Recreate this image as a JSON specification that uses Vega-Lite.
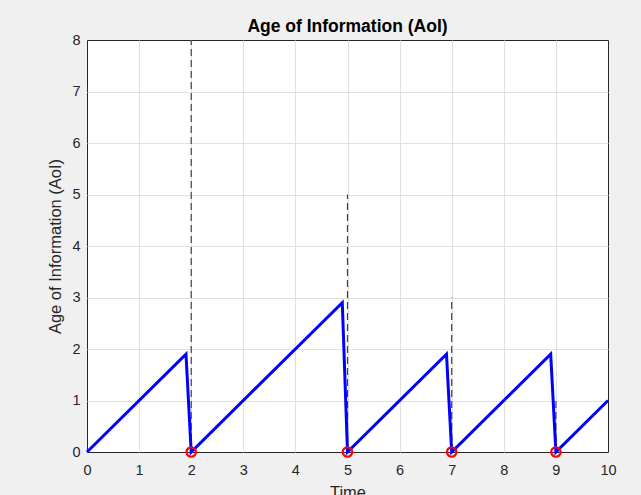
{
  "$schema": "https://vega.github.io/schema/vega-lite/v6.json",
  "width": 521,
  "height": 412,
  "autosize": {"type": "none"},
  "padding": {"left": 87, "top": 40, "right": 33, "bottom": 43},
  "background": "#f0f0f0",
  "title": {
    "text": "Age of Information (AoI)",
    "font": "Liberation Sans",
    "fontSize": 17.5,
    "fontWeight": "bold",
    "color": "#000000",
    "anchor": "middle",
    "baseline": "middle",
    "offset": -12
  },
  "config": {
    "view": {"fill": "#ffffff", "stroke": "#262626", "strokeWidth": 1},
    "axis": {
      "labelFont": "Liberation Sans",
      "titleFont": "Liberation Sans",
      "labelFontSize": 14.5,
      "titleFontSize": 16.5,
      "titleFontWeight": "normal",
      "labelColor": "#262626",
      "titleColor": "#262626",
      "labelFlush": false,
      "gridWidth": 1,
      "domain": false,
      "ticks": false
    }
  },
  "datasets": {
    "aoi": [
      {"i": 0, "t": 0, "age": 0},
      {"i": 1, "t": 1.9, "age": 1.9},
      {"i": 2, "t": 2, "age": 0},
      {"i": 3, "t": 4.9, "age": 2.9},
      {"i": 4, "t": 5, "age": 0},
      {"i": 5, "t": 6.9, "age": 1.9},
      {"i": 6, "t": 7, "age": 0},
      {"i": 7, "t": 8.9, "age": 1.9},
      {"i": 8, "t": 9, "age": 0},
      {"i": 9, "t": 10, "age": 1}
    ],
    "updates": [
      {"t": 2, "peak": 8, "base": 0},
      {"t": 5, "peak": 5, "base": 0},
      {"t": 7, "peak": 3, "base": 0},
      {"t": 9, "peak": 1, "base": 0}
    ]
  },
  "layer": [
    {
      "data": {"name": "updates"},
      "mark": {"type": "rule", "color": "#404040", "strokeWidth": 1.2, "strokeDash": [7, 4]},
      "encoding": {
        "x": {"field": "t", "type": "quantitative"},
        "y": {"field": "base", "type": "quantitative"},
        "y2": {"field": "peak"}
      }
    },
    {
      "data": {"name": "aoi"},
      "mark": {"type": "line", "color": "#0000ff", "strokeWidth": 3, "strokeJoin": "miter"},
      "encoding": {
        "x": {
          "field": "t",
          "type": "quantitative",
          "scale": {"domain": [0, 10], "nice": false},
          "axis": {
            "values": [0, 1, 2, 3, 4, 5, 6, 7, 8, 9, 10],
            "title": "Time",
            "labelPadding": 11,
            "titlePadding": 8,
            "format": "d",
            "gridColor": {"condition": {"test": "datum.value === 0 || datum.value === 10", "value": "transparent"}, "value": "#e0e0e0"}
          }
        },
        "y": {
          "field": "age",
          "type": "quantitative",
          "scale": {"domain": [0, 8], "nice": false},
          "axis": {
            "values": [0, 1, 2, 3, 4, 5, 6, 7, 8],
            "title": "Age of Information (AoI)",
            "labelPadding": 7,
            "titlePadding": 8,
            "format": "d",
            "gridColor": {"condition": {"test": "datum.value === 0 || datum.value === 8", "value": "transparent"}, "value": "#e0e0e0"}
          }
        },
        "order": {"field": "i", "type": "quantitative"}
      }
    },
    {
      "data": {"name": "updates"},
      "mark": {"type": "point", "shape": "circle", "filled": false, "color": "#ff0000", "strokeWidth": 2.2, "size": 90, "clip": false, "opacity": 1},
      "encoding": {
        "x": {"field": "t", "type": "quantitative"},
        "y": {"field": "base", "type": "quantitative"}
      }
    }
  ]
}
